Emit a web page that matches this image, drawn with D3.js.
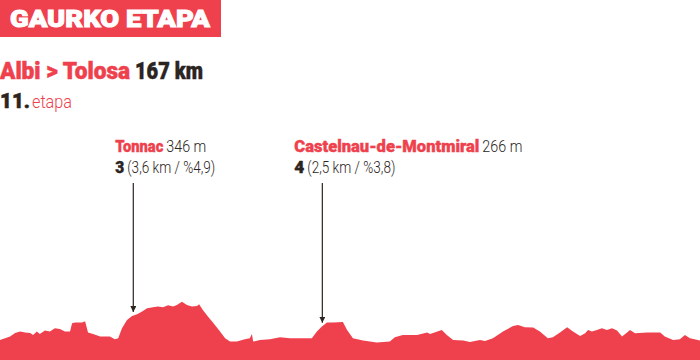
<!DOCTYPE html>
<html>
<head>
<meta charset="utf-8">
<script src="https://cdn.jsdelivr.net/npm/d3@7"></script>
<style>
  body { margin: 0; background: #fff; }
  svg { display: block; }
  text { font-family: Roboto, "Liberation Sans", sans-serif; }
</style>
</head>
<body>
<svg id="chart" width="700" height="360"></svg>
<script>
// profile: distance (km) and elevation (m)
const km = [0, 2.4, 3.6, 4.8, 6.0, 7.2, 7.9, 8.8, 9.5, 10.7, 11.9, 13.1, 14.3, 15.5, 16.7, 17.2, 17.9, 19.6, 20.3, 21.0,
  22.2, 23.9, 26.2, 27.4, 28.2, 29.1, 30.3, 31.5, 32.7, 33.9, 35.1, 36.5, 37.7, 38.9, 40.1, 41.3, 42.2, 43.4, 44.6, 45.8,
  47.0, 47.5, 48.4, 49.6, 50.8, 52.5, 53.7, 54.9, 56.5, 58.4, 59.6, 60.1, 60.4, 62.0, 64.4, 66.8, 69.2, 74.4, 75.6, 76.8,
  78.0, 79.4, 81.8, 82.8, 84.2, 86.6, 89.9, 93.0, 94.2, 96.1, 99.5, 101.9, 102.6, 105.4, 106.6, 108.1, 110.5, 112.1, 114.5, 115.7,
  117.6, 120.0, 122.4, 123.6, 125.2, 127.2, 128.8, 130.7, 131.9, 133.6, 135.3, 136.7, 138.4, 139.6, 140.3, 141.2, 142.4, 143.6, 144.8, 146.0,
  147.2, 148.4, 149.6, 150.3, 151.5, 154.4, 157.5, 158.6, 160.6, 162.2, 163.4, 164.6, 167];
const elevation = [155, 172, 190, 197, 192, 190, 180, 197, 185, 202, 197, 214, 210, 197, 197, 239, 242, 242, 249, 192,
  185, 172, 172, 159, 164, 214, 255, 275, 284, 297, 314, 319, 322, 319, 329, 322, 330, 346, 330, 322,
  325, 334, 305, 272, 242, 197, 164, 147, 147, 159, 164, 185, 147, 155, 159, 169, 164, 164, 197, 222,
  242, 242, 245, 205, 164, 152, 142, 147, 169, 180, 180, 192, 185, 205, 180, 155, 152, 145, 155, 150,
  164, 197, 225, 230, 219, 217, 197, 164, 169, 192, 219, 197, 175, 189, 205, 197, 205, 214, 205, 214,
  202, 172, 192, 205, 189, 192, 192, 172, 155, 159, 180, 164, 152];

// climbs
const climbNames = ["Tonnac", "Castelnau-de-Montmiral"];
const climbKm = [31.8, 76.9];
const climbHeight = [346, 266];
const climbCategory = ["3", "4"];
const climbLength = ["3,6", "2,5"];
const climbGrade = ["4,9", "3,8"];

const stageTitle = "Albi > Tolosa";
const stageDistance = "167 km";
const stageNumber = "11.";

const red = "#ef414d";
const dark = "#2b2421";
const width = 700, height = 360;

const svg = d3.select("#chart");

const x = d3.scaleLinear().domain([0, 167]).range([0, width]);
const y = d3.scaleLinear().domain([55, 400]).range([height, 291]);

const profile = km.map((k, i) => ({ km: k, ele: elevation[i] }));

// squeeze a text piece into the width it has in the print layout
const fit = (sel, w) => sel.attr("textLength", w).attr("lengthAdjust", "spacingAndGlyphs");
// a little extra ink for the heavy cuts
const heavy = (sel, c, w = 0.5) => sel.attr("font-weight", 900).attr("fill", c).attr("stroke", c).attr("stroke-width", w);

// header box
svg.append("rect")
    .attr("x", 0).attr("y", 0)
    .attr("width", 221).attr("height", 37)
    .attr("fill", red);

svg.append("text")
    .attr("x", 10).attr("y", 27)
    .attr("font-size", 24)
    .call(heavy, "#fff", 1)
    .call(fit, 200)
    .text("GAURKO ETAPA");

// stage title
const title = svg.append("text")
    .attr("y", 79)
    .attr("font-size", 23);
title.append("tspan").attr("x", 0).call(heavy, red).call(fit, 130).text(stageTitle);
title.append("tspan").attr("x", 135).call(heavy, dark).call(fit, 68).text(stageDistance);

const sub = svg.append("text")
    .attr("y", 108);
sub.append("tspan").attr("x", 0).attr("font-size", 20).call(heavy, dark)
    .call(fit, 30).text(stageNumber);
sub.append("tspan").attr("x", 32).attr("fill", red).attr("font-size", 18).attr("font-weight", 300)
    .call(fit, 40).text("etapa");

// elevation profile
const area = d3.area()
    .x(d => x(d.km))
    .y0(height)
    .y1(d => y(d.ele))
    .curve(d3.curveLinear);

svg.append("path")
    .datum(profile)
    .attr("d", area)
    .attr("fill", red);

// arrows
svg.append("defs").append("marker")
    .attr("id", "head")
    .attr("viewBox", "0 0 10 10")
    .attr("refX", 10).attr("refY", 5)
    .attr("markerWidth", 6).attr("markerHeight", 6)
    .attr("markerUnits", "userSpaceOnUse")
    .attr("orient", "auto")
  .append("path")
    .attr("d", "M0,0L10,5L0,10Z")
    .attr("fill", dark);

const bisect = d3.bisector(d => d.km).left;
const eleAt = k => {
    const i = bisect(profile, k);
    const a = profile[i - 1], b = profile[i];
    return a.ele + (b.ele - a.ele) * (k - a.km) / (b.km - a.km);
};

// label layout: shift from the arrow and printed widths of each piece
const labelShift = [-18, -28];
const nameWidth = [48, 185];
const catWidth = [9, 10];

const climbs = climbNames.map((name, i) => ({
    name, km: climbKm[i], height: climbHeight[i], cat: climbCategory[i],
    len: climbLength[i], grade: climbGrade[i],
    lx: x(climbKm[i]) + labelShift[i], nw: nameWidth[i], cw: catWidth[i]
}));

const g = svg.selectAll(".climb")
    .data(climbs)
    .join("g")
    .attr("class", "climb");

g.append("line")
    .attr("x1", d => x(d.km)).attr("x2", d => x(d.km))
    .attr("y1", 183)
    .attr("y2", d => y(eleAt(d.km)) - 3.5)
    .attr("stroke", dark)
    .attr("stroke-width", 1.2)
    .attr("marker-end", "url(#head)");

const l1 = g.append("text")
    .attr("y", 152)
    .attr("font-size", 17);
l1.append("tspan")
    .attr("x", d => d.lx)
    .call(heavy, red, 0.4)
    .each(function(d) { fit(d3.select(this), d.nw); })
    .text(d => d.name);
l1.append("tspan")
    .attr("x", d => d.lx + d.nw + 3)
    .attr("fill", dark).attr("font-weight", 300)
    .call(fit, 40)
    .text(d => `${d.height} m`);

const l2 = g.append("text")
    .attr("y", 173)
    .attr("font-size", 17);
l2.append("tspan")
    .attr("x", d => d.lx)
    .call(heavy, dark, 0.4)
    .each(function(d) { fit(d3.select(this), d.cw); })
    .text(d => d.cat);
l2.append("tspan")
    .attr("x", d => d.lx + d.cw + 3)
    .attr("fill", dark).attr("font-weight", 300)
    .call(fit, 88)
    .text(d => `(${d.len} km / %${d.grade})`);
</script>
</body>
</html>
